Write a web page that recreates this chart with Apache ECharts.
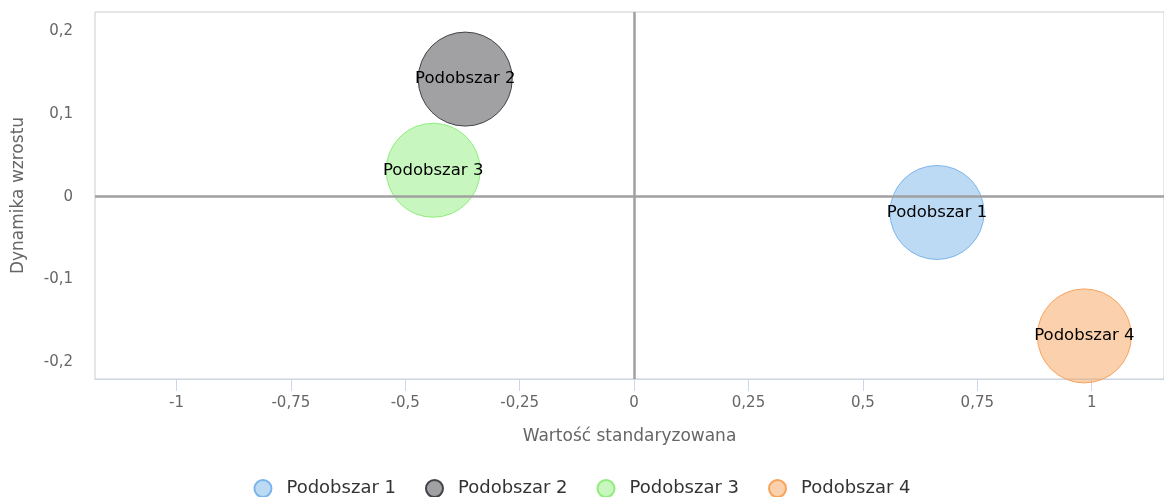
<!DOCTYPE html>
<html>
<head>
<meta charset="utf-8">
<script src="https://cdn.jsdelivr.net/npm/echarts@6/dist/echarts.min.js"></script>
<style>
  html, body { margin: 0; padding: 0; background: #fff; }
  #chart { width: 1164px; height: 497px; }
</style>
</head>
<body>
<div id="chart"></div>
<script>
// dane
var seriesNames = ['Podobszar 1', 'Podobszar 2', 'Podobszar 3', 'Podobszar 4']
var xValues = [0.662, -0.369, -0.439, 0.984]
var yValues = [-0.019, 0.142, 0.032, -0.168]
var seriesColors = ['#7cb5ec', '#434348', '#90ed7d', '#f7a35c']
var fillColors = ['rgba(124,181,236,0.5)', 'rgba(67,67,72,0.5)', 'rgba(144,237,125,0.5)', 'rgba(247,163,92,0.5)']
var xTicks = [-1, -0.75, -0.5, -0.25, 0, 0.25, 0.5, 0.75, 1]
var yTicks = [-0.2, -0.1, 0, 0.1, 0.2]

var font = 'DejaVu Sans'

function plNumber(v) {
  // przecinek dziesiętny jak na oryginale
  return String(Math.round(v * 100) / 100).replace('.', ',')
}

var chart = echarts.init(document.getElementById('chart'))

var series = seriesNames.map(function(name, i) {
  return {
    name: name,
    type: 'scatter',
    symbol: 'circle',
    symbolSize: 94,
    z: 3,
    data: [[xValues[i], yValues[i]]],
    itemStyle: {
      color: fillColors[i],
      borderColor: seriesColors[i],
      borderWidth: 1,
      opacity: 1
    },
    label: {
      show: true,
      position: 'inside',
      formatter: name,
      color: '#000',
      fontFamily: font,
      fontSize: 16.5
    },
    emphasis: { disabled: true }
  }
})

// linie zera
series.push({
  type: 'scatter',
  data: [],
  silent: true,
  z: 1,
  markLine: {
    silent: true,
    symbol: ['none', 'none'],
    label: { show: false },
    lineStyle: { color: '#a0a0a0', width: 2.5, type: 'solid' },
    data: [{ xAxis: 0 }, { yAxis: 0 }]
  }
})

chart.setOption({
  animation: false,
  textStyle: { fontFamily: font },
  grid: {
    left: 95,
    right: 0,
    top: 12,
    bottom: 118,
    show: true,
    borderColor: '#cccccc',
    borderWidth: 1
  },
  legend: {
    data: seriesNames,
    left: 'center',
    top: 474,
    icon: 'circle',
    itemWidth: 17,
    itemHeight: 17,
    itemGap: 29,
    textStyle: { color: '#333', fontSize: 18, fontFamily: font, padding: [0, 0, 0, 10] }
  },
  xAxis: {
    type: 'value',
    min: -1.178,
    max: 1.158,
    name: 'Wartość standaryzowana',
    nameLocation: 'middle',
    nameGap: 49,
    nameTextStyle: { color: '#666', fontSize: 17, fontFamily: font },
    axisLine: { show: true, onZero: false, lineStyle: { color: '#ccd6eb', width: 1 } },
    axisTick: { show: true, length: 12, customValues: xTicks, lineStyle: { color: '#ccd6eb' } },
    axisLabel: {
      customValues: xTicks,
      margin: 17,
      color: '#666',
      fontSize: 15,
      fontFamily: font,
      formatter: plNumber
    },
    splitLine: { show: false }
  },
  yAxis: {
    type: 'value',
    min: -0.220,
    max: 0.223,
    name: 'Dynamika wzrostu',
    nameLocation: 'middle',
    nameGap: 68,
    nameTextStyle: { color: '#666', fontSize: 17, fontFamily: font },
    axisLine: { show: false },
    axisTick: { show: false },
    axisLabel: {
      customValues: yTicks,
      margin: 22,
      color: '#666',
      fontSize: 15,
      fontFamily: font,
      formatter: plNumber
    },
    splitLine: { show: false }
  },
  series: series
})
</script>
</body>
</html>
